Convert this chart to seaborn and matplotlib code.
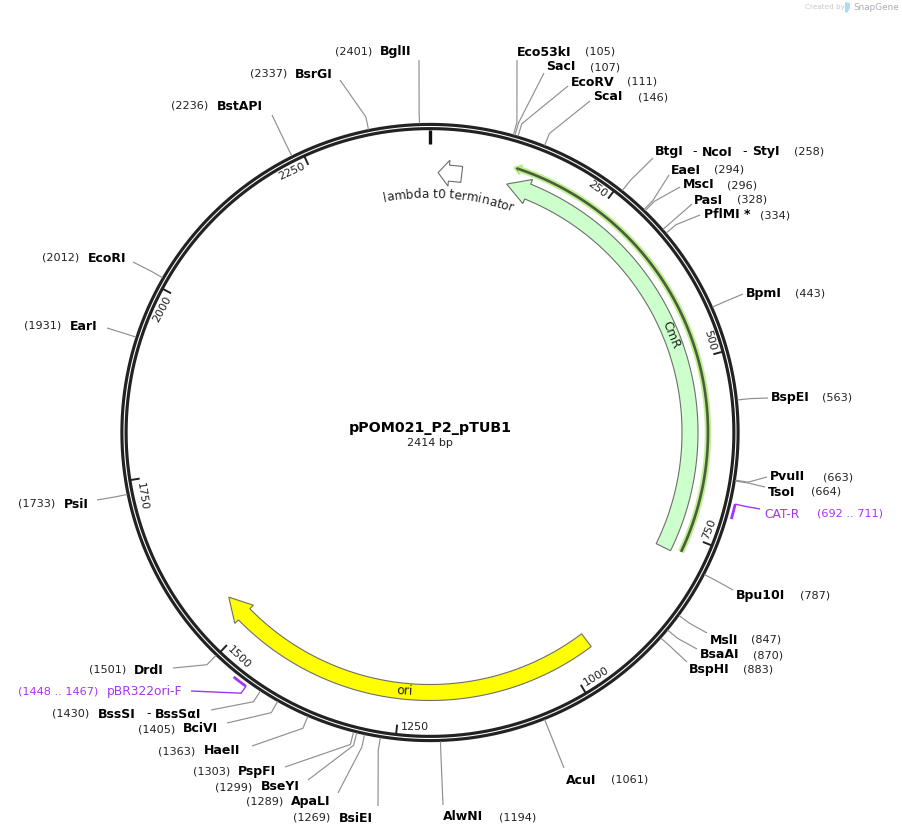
"""
plot.py
Circular plasmid map of pPOM021_P2_pTUB1 in the SnapGene layout.
"""

import numpy as np
import pandas as pd
import matplotlib
matplotlib.use('Agg')
import matplotlib.pyplot as plt
from matplotlib.font_manager import FontProperties
from matplotlib.textpath import TextToPath
import seaborn as sns

PLASMID_NAME = "pPOM021_P2_pTUB1"
PLASMID_LENGTH = 2414

# restriction sites, clockwise from the origin
site_names = [
    "Eco53kI", "SacI", "EcoRV", "ScaI", "BtgI", "EaeI", "MscI", "PasI", "PflMI *",
    "BpmI", "BspEI", "PvuII", "TsoI", "Bpu10I", "MslI", "BsaAI", "BspHI", "AcuI",
    "AlwNI", "BsiEI", "ApaLI", "BseYI", "PspFI", "HaeII", "BciVI", "BssSI", "DrdI",
    "PsiI", "EarI", "EcoRI", "BstAPI", "BsrGI", "BglII",
]
site_positions = [
    105, 107, 111, 146, 258, 294, 296, 328, 334,
    443, 563, 663, 664, 787, 847, 870, 883, 1061,
    1194, 1269, 1289, 1299, 1303, 1363, 1405, 1430, 1501,
    1733, 1931, 2012, 2236, 2337, 2401,
]

# (tip, tail) of the arrows, in bp
cmr_span = [115, 779]
ori_span = [1547, 959]
lambda_span = [12, 47]
marker_span = [118, 774]

primer_names = ["CAT-R", "pBR322ori-F"]
primer_starts = [692, 1448]
primer_ends = [711, 1467]

tick_values = [250, 500, 750, 1000, 1250, 1500, 1750, 2000, 2250]

# layout: name x, label y, position x, leader end x, leader end y
site_layout = {
    "Eco53kI": (517, 52, 585, 517, 60),
    "SacI": (546, 67, 590, 544, 73),
    "EcoRV": (571, 82, 627, 568, 86),
    "ScaI": (593, 97, 638, 590, 101),
    "BtgI": (655, 152, 794, 653, 158),
    "EaeI": (671, 170, 714, 669, 175),
    "MscI": (683, 185, 727, 680, 187),
    "PasI": (694, 200, 737, 692, 204),
    "PflMI *": (704, 215, 760, 700, 215),
    "BpmI": (746, 293, 795, 743, 294),
    "BspEI": (771, 398, 822, 768, 398),
    "PvuII": (770, 477, 823, 767, 477),
    "TsoI": (768, 492, 811, 765, 487),
    "Bpu10I": (736, 596, 800, 733, 590),
    "MslI": (710, 640, 751, 707, 633),
    "BsaAI": (700, 655, 753, 697, 649),
    "BspHI": (689, 670, 743, 687, 662),
    "AcuI": (566, 780, 611, 564, 768),
    "AlwNI": (443, 817, 499, 443, 805),
    "BsiEI": (339, 818, 293, 378, 806),
    "ApaLI": (291, 802, 246, 338, 793),
    "BseYI": (261, 787, 215, 308, 780),
    "PspFI": (238, 772, 193, 285, 767),
    "HaeII": (204, 751, 158, 252, 746),
    "BciVI": (183, 729, 138, 227, 723),
    "BssSI": (98, 714, 52, 211, 710),
    "DrdI": (134, 670, 89, 173, 668),
    "PsiI": (64, 504, 18, 97, 500),
    "EarI": (70, 326, 24, 107, 328),
    "EcoRI": (88, 258, 42, 133, 262),
    "BstAPI": (217, 106, 171, 272, 115),
    "BsrGI": (295, 74, 250, 340, 80),
    "BglII": (380, 52, 335, 419, 60),
}

CX, CY = 430.0, 432.5
RING_R = 306.0
ELBOW_R = 322.0
PRIMER_R = 313.5
BAND_IN, BAND_OUT = 252.0, 268.0
HEAD_IN, HEAD_OUT = 247.0, 273.0
MARKER_R = 278.0
PURPLE = "#a733f5"
LEADER = "#909090"
FONT = "DejaVu Sans"

NAME_SIZE = 9.0
POS_SIZE = 8.1
PRIMER_SIZE = 8.8
TICK_SIZE = 8.0


def polar(bp, r):
    """Map a bp position and a radius to picture coordinates."""
    a = np.deg2rad(np.asarray(bp, dtype=float) / PLASMID_LENGTH * 360.0)
    return CX + r * np.sin(a), CY - r * np.cos(a)


def draw_lines(ax, rows, color, lw):
    """rows is a list of (x array, y array), one line each."""
    frames = [pd.DataFrame({"x": x, "y": y, "line": i}) for i, (x, y) in enumerate(rows)]
    sns.lineplot(data=pd.concat(frames), x="x", y="y", units="line", estimator=None,
                 sort=False, color=color, linewidth=lw, ax=ax, legend=False,
                 solid_capstyle='butt')


def draw_arrow(ax, tip, tail, head_bp, face, edge='#6e6e6e'):
    sign = np.sign(tip - tail)
    body = np.linspace(tail, tip - sign * head_bp, 120)
    xo, yo = polar(body, BAND_OUT)
    xi, yi = polar(body[::-1], BAND_IN)
    mid = (BAND_IN + BAND_OUT) / 2
    hx, hy = polar([body[-1], tip, body[-1]], [HEAD_OUT, mid, HEAD_IN])
    ax.fill(np.r_[xo, hx, xi], np.r_[yo, hy, yi], facecolor=face, edgecolor=edge, lw=0.8)


def draw_curved_text(ax, text, mid_bp, r, size):
    prop = FontProperties(family=FONT, size=size)
    measure = TextToPath()
    scale = 100.0 / 72.0
    widths = [measure.get_text_width_height_descent(text[:i], prop, False)[0] * scale
              for i in range(len(text) + 1)]
    total = widths[-1]
    for i, ch in enumerate(text):
        centre = (widths[i] + widths[i + 1]) / 2 - total / 2
        deg = mid_bp / PLASMID_LENGTH * 360.0 + np.rad2deg(centre / r)
        x, y = polar(deg / 360.0 * PLASMID_LENGTH, r)
        ax.text(x, y, ch, fontproperties=prop, rotation=-deg, rotation_mode='anchor',
                ha='center', va='baseline', color='#222222')


def draw_joined_label(ax, y, parts):
    for x, label in parts:
        weight = 'normal' if label == "-" else 'bold'
        ax.text(x, y, label, fontsize=NAME_SIZE, fontweight=weight, va='center', color='#000000')


def draw_sites(ax):
    rows = []
    for name, bp in zip(site_names, site_positions):
        name_x, y, pos_x, end_x, end_y = site_layout[name]
        x, yy = polar([bp, bp], [RING_R + 3, ELBOW_R])
        rows.append((np.r_[x, end_x], np.r_[yy, end_y]))
        if name not in ("BtgI", "BssSI"):
            ax.text(name_x, y, name, fontsize=NAME_SIZE, fontweight='bold', va='center', color='#000000')
        ax.text(pos_x, y, f"({bp})", fontsize=POS_SIZE, va='center', color='#222222')
    draw_lines(ax, rows, LEADER, 0.85)

    # sites that share one leader carry a joined label
    draw_joined_label(ax, 152, [(655, "BtgI"), (692, "-"), (702, "NcoI"), (742, "-"), (752, "StyI")])
    draw_joined_label(ax, 714, [(98, "BssSI"), (146, "-"), (155, "BssSαI")])


def draw_primers(ax):
    marks = []
    leaders = []
    ends = [(760, 509), (191, 691)]
    for start, stop, (ex, ey) in zip(primer_starts, primer_ends, ends):
        marks.append(polar(np.linspace(start, stop, 8), PRIMER_R))
        x, y = polar([start, start], [PRIMER_R, ELBOW_R])
        leaders.append((np.r_[x, ex], np.r_[y, ey]))
    draw_lines(ax, marks, PURPLE, 2.0)
    draw_lines(ax, leaders, PURPLE, 1.0)
    ax.text(764, 514, primer_names[0], fontsize=PRIMER_SIZE, color=PURPLE, va='center')
    ax.text(817, 514, f"({primer_starts[0]} .. {primer_ends[0]})", fontsize=POS_SIZE, color=PURPLE, va='center')
    ax.text(107, 692, primer_names[1], fontsize=PRIMER_SIZE, color=PURPLE, va='center')
    ax.text(18, 692, f"({primer_starts[1]} .. {primer_ends[1]})", fontsize=POS_SIZE, color=PURPLE, va='center')


def draw_ticks(ax):
    rows = []
    for value in tick_values:
        rows.append(polar([value, value], [RING_R - 3, RING_R - 12]))
        deg = value / PLASMID_LENGTH * 360.0
        if deg > 270:
            rot = 360 - deg
        elif deg > 90:
            rot = 180 - deg
        else:
            rot = -deg
        if abs(rot) < 8:
            rot = 0
        half = len(str(value)) * 3.7 + 3
        bp = value - np.rad2deg(half / 295.0) / 360.0 * PLASMID_LENGTH
        x, y = polar(bp, 295.0)
        ax.text(x, y, str(value), fontsize=TICK_SIZE, rotation=rot, rotation_mode='anchor',
                ha='center', va='center', color='#222222')
    draw_lines(ax, rows, '#222222', 1.4)
    draw_lines(ax, [polar([0, 0], [RING_R - 3, RING_R - 17])], '#111111', 2.4)


def main():
    sns.set_theme(style="white")
    plt.rcParams['font.family'] = [FONT]

    fig = plt.figure(figsize=(9.02, 8.36), dpi=100)
    ax = fig.add_axes([0, 0, 1, 1])

    # backbone: two dark circles with a thin white gap
    circle = np.linspace(0, PLASMID_LENGTH, 721)
    draw_lines(ax, [polar(circle, RING_R + 2.1), polar(circle, RING_R - 2.1)], '#222222', 2.25)

    # features
    draw_arrow(ax, cmr_span[0], cmr_span[1], 33, '#ccffcc')
    draw_arrow(ax, ori_span[0], ori_span[1], 34, '#ffff00')
    draw_arrow(ax, lambda_span[0], lambda_span[1], 16, '#ffffff')

    body = np.linspace(marker_span[1], marker_span[0] + 6, 200)
    draw_lines(ax, [polar(body, MARKER_R)], '#bdf08f', 4.6)
    draw_lines(ax, [polar(body, MARKER_R)], '#4d5c3c', 1.9)
    tip = marker_span[0]
    hx, hy = polar([tip + 10, tip, tip + 10], [MARKER_R + 5, MARKER_R, MARKER_R - 5])
    ax.fill(hx, hy, facecolor='#4d5c3c', edgecolor='#bdf08f', lw=1.2)

    x, y = polar(455, 260.0)
    ax.text(x, y, "CmR", fontsize=8.7, rotation=-68, rotation_mode='anchor', ha='center', va='center', color='#222222')
    x, y = polar(1245, 260.0)
    ax.text(x, y, "ori", fontsize=9, rotation=-3, rotation_mode='anchor', ha='center', va='center', color='#222222')
    draw_curved_text(ax, "lambda t0 terminator", 30, 235.0, 8.7)

    draw_ticks(ax)
    draw_sites(ax)
    draw_primers(ax)

    ax.text(CX, 428, PLASMID_NAME, fontsize=10.3, fontweight='bold', ha='center', va='center', color='#000000')
    ax.text(CX, 443, f"{PLASMID_LENGTH} bp", fontsize=8.0, ha='center', va='center', color='#222222')

    # watermark
    ax.text(805, 7, "Created by", fontsize=5.2, color='#c4c8cc', va='center')
    ax.fill([845, 850, 850, 847, 845], [2, 3, 8, 13, 12], color='#a9dcf5', lw=0)
    ax.text(853, 7, "SnapGene", fontsize=6.4, color='#a9afb5', va='center')

    ax.set_xlim(0, 902)
    ax.set_ylim(836, 0)
    ax.set_axis_off()
    fig.savefig("out.png", dpi=100)
    plt.close(fig)


if __name__ == "__main__":
    main()
